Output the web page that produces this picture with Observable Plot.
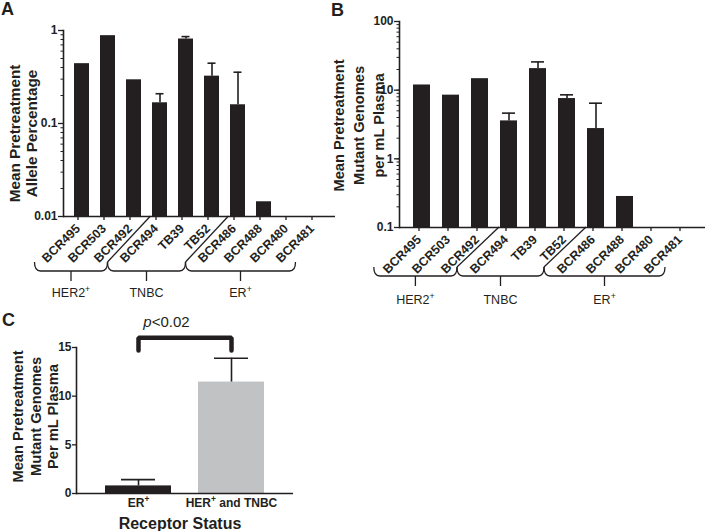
<!DOCTYPE html>
<html><head><meta charset="utf-8">
<script src="https://cdn.jsdelivr.net/npm/d3@7"></script>
<script src="https://cdn.jsdelivr.net/npm/@observablehq/plot@0.6"></script>
<style>
body{margin:0;background:#fff;}
#root{position:relative;width:705px;height:531px;overflow:hidden;font-family:"Liberation Sans",Arial,Helvetica,sans-serif;}
#root svg{position:absolute;background:transparent;overflow:visible;}
.letter{position:absolute;font-weight:bold;font-size:18px;line-height:18px;color:#231f20;}
</style></head><body><div id="root"></div>
<script>
// ---------- data ----------
const samples = ["BCR495","BCR503","BCR492","BCR494","TB39","TB52","BCR486","BCR488","BCR480","BCR481"];
const alleleMean = [0.44, 0.88, 0.295, 0.167, 0.81, 0.323, 0.159, 0.0144, null, null];
const alleleErr  = [null, null, null, 0.209, 0.86, 0.445, 0.356, null, null, null];
const genomesMean = [11.9, 8.46, 14.7, 3.57, 20.6, 7.55, 2.76, 0.283, null, null];
const genomesErr  = [null, null, null, 4.63, 25.8, 8.55, 6.46, null, null, null];
const groupLabels = ["HER2^+", "TNBC", "ER^+"];
const groupMembers = [["BCR495","BCR503","BCR492"], ["BCR494","TB39","TB52"], ["BCR486","BCR488","BCR480","BCR481"]];
const ticksA = [0.01, 0.1, 1];
const ticksB = [0.1, 1, 10, 100];
const statusCats = ["ER^+", "HER^+ and TNBC"];
const statusMean = [0.78, 11.45];
const statusErr  = [1.43, 13.9];
const statusColors = ["#231f20", "#c1c2c4"];
const ticksC = [0, 5, 10, 15];
const sigLabel = "p<0.02";
const sigTop = 16.0, sigLeg = 14.7;
const titleA = ["Mean Pretreatment", "Allele Percentage"];
const titleB = ["Mean Pretreatment", "Mutant Genomes", "per mL Plasma"];
const titleC = ["Mean Pretreatment", "Mutant Genomes", "Per mL Plasma"];
const xTitleC = "Receptor Status";

// ---------- helpers ----------
const ink = "#231f20";
const font = "Liberation Sans, Arial, Helvetica, sans-serif";
const root = document.getElementById("root");
const table = (means, errs) => samples.map((s, i) => ({sample: s, mean: means[i], err: errs[i]}));
const groups = groupLabels.map((l, i) => ({label: l, members: groupMembers[i]}));
const SVGNS = "http://www.w3.org/2000/svg";

function applySup(svg) {
  d3.select(svg).selectAll("text, tspan").each(function() {
    if (this.children.length) return;
    const t = this.textContent;
    if (!t.includes("^")) return;
    this.textContent = "";
    for (const p of t.split(/(\^\S)/)) {
      if (!p) continue;
      const ts = document.createElementNS(SVGNS, "tspan");
      if (p[0] === "^") { ts.textContent = p.slice(1); ts.setAttribute("baseline-shift", "super"); ts.setAttribute("font-size", "70%"); }
      else ts.textContent = p;
      this.appendChild(ts);
    }
  });
}

function titleMarks(lines, firstDx, gap, dy, size) {
  return lines.map((line, i) => Plot.text([line], {
    frameAnchor: "left", textAnchor: "middle", lineAnchor: "middle", rotate: -90,
    dx: firstDx + i * gap, dy, fontSize: size, fontWeight: "bold", fill: ink
  }));
}

function errorMarks(data, capInset) {
  const e = data.filter(d => d.err != null && d.mean != null);
  return [
    Plot.ruleX(e, {x: "sample", y1: "mean", y2: "err", stroke: ink, strokeWidth: 1.6}),
    Plot.tickY(e, {x: "sample", y: "err", stroke: ink, strokeWidth: 1.6, insetLeft: capInset, insetRight: capInset})
  ];
}

function drawBrackets(plot, base, cfg) {
  const sx = plot.scale("x"), sy = plot.scale("y");
  const c = v => sx.apply(v) + sx.bandwidth / 2;
  const step = sx.step;
  const y0 = sy.apply(base);
  const yP = y0 + cfg.peak, yH = y0 + cfg.h, yT = y0 + cfg.tick, yL = y0 + cfg.label;
  const g = d3.select(plot).append("g");
  const n = groups.length;
  groups.forEach((gr, i) => {
    const first = gr.members[0], last = gr.members[gr.members.length - 1];
    const left = i === 0 ? c(first) + cfg.leftOff : c(first) - step / 2 + cfg.joinOff;
    const right = i === n - 1 ? c(last) + cfg.rightOff : c(last) + step / 2 + cfg.joinOff;
    const mid = (left + right) / 2;
    g.append("path")
      .attr("d", `M${left},${yP}Q${left},${yH} ${left + 6},${yH}H${right - 6}Q${right},${yH} ${right},${yP}M${mid},${yH}V${yT}`)
      .attr("fill", "none").attr("stroke", ink).attr("stroke-width", 1.3);
    g.append("text").attr("x", mid).attr("y", yL).attr("text-anchor", "middle")
      .attr("font-size", 12.5).attr("fill", ink).attr("font-family", font).text(gr.label);
    if (i < n - 1) {
      const b = c(last) + step / 2;
      g.append("line").attr("x1", b + cfg.joinOff).attr("y1", yP).attr("x2", b + cfg.diag).attr("y2", y0)
        .attr("stroke", ink).attr("stroke-width", 1.3);
    }
  });
}

function logPanel({data, ticks, domain, title, width, height, mt, mb, ml, mr, pIn, pOut, capInset, tDx, tGap, tDy, tSize, lblDx, lblDy}) {
  return Plot.plot({
    width, height, marginTop: mt, marginBottom: mb, marginLeft: ml, marginRight: mr,
    style: {fontFamily: font, color: ink, background: "transparent", overflow: "visible"},
    x: {type: "band", domain: samples, paddingInner: pIn, paddingOuter: pOut, label: null},
    y: {type: "log", domain, label: null},
    marks: [
      Plot.barY(data, {x: "sample", y1: domain[0], y2: "mean", fill: ink}),
      ...errorMarks(data, capInset),
      Plot.axisY({ticks: 30, tickFormat: () => "", tickSize: 2.5, strokeWidth: 1, label: null}),
      Plot.axisY({ticks, tickFormat: "~g", tickSize: 5, tickPadding: 1, fontSize: 12, fontWeight: "bold", strokeWidth: 1.3, label: null}),
      Plot.axisX({tickRotate: -45, tickSize: 3, tickPadding: 6, dx: lblDx, dy: lblDy, fontSize: 12.5, fontWeight: "bold", strokeWidth: 1.3, label: null}),
      Plot.ruleY([domain[0]], {stroke: ink, strokeWidth: 1.6}),
      Plot.frame({anchor: "left", stroke: ink, strokeWidth: 1.6}),
      ...titleMarks(title, tDx, tGap, tDy, tSize)
    ]
  });
}

// ---------- Panel A ----------
const plotA = logPanel({data: table(alleleMean, alleleErr), ticks: ticksA, domain: [0.01, 1], title: titleA,
  width: 350, height: 300, mt: 30, mb: 84, ml: 63, mr: 15, pIn: 0.42, pOut: 0.44, capInset: 3.5,
  tDx: -48, tGap: 17, tDy: 10, tSize: 15.3, lblDx: -4, lblDy: 1});
plotA.style.left = "0px"; plotA.style.top = "0px";
root.appendChild(plotA);
drawBrackets(plotA, 0.01, {leftOff: -47, rightOff: -20, joinOff: -39, diag: 4, peak: 46, h: 55, tick: 65, label: 81});
applySup(plotA);

// ---------- Panel B ----------
const plotB = logPanel({data: table(genomesMean, genomesErr), ticks: ticksB, domain: [0.1, 100], title: titleB,
  width: 385, height: 310, mt: 21, mb: 83, ml: 79, mr: 0, pIn: 0.41, pOut: 0.42, capInset: 2,
  tDx: -60, tGap: 20, tDy: 1, tSize: 14.7, lblDx: -3, lblDy: 1});
plotB.style.left = "320px"; plotB.style.top = "0px";
root.appendChild(plotB);
drawBrackets(plotB, 0.1, {leftOff: -47.7, rightOff: -17.5, joinOff: -37, diag: 5, peak: 40, h: 49, tick: 59, label: 77});
applySup(plotB);

// ---------- Panel C ----------
const dataC = statusCats.map((c, i) => ({cat: c, mean: statusMean[i], err: statusErr[i], color: statusColors[i]}));
const sigPath = [
  {cat: statusCats[0], y: sigLeg}, {cat: statusCats[0], y: sigTop},
  {cat: statusCats[1], y: sigTop}, {cat: statusCats[1], y: sigLeg}
];
const plotC = Plot.plot({
  width: 350, height: 231, marginTop: 47, marginBottom: 38, marginLeft: 76, marginRight: 57,
  style: {fontFamily: font, color: ink, background: "transparent", overflow: "visible"},
  x: {type: "band", domain: statusCats, paddingInner: 0.29, paddingOuter: 0.31, label: null},
  y: {domain: [0, 15], label: null},
  marks: [
    Plot.barY(dataC, {x: "cat", y: "mean", fill: "color"}),
    Plot.ruleX(dataC, {x: "cat", y1: "mean", y2: "err", stroke: ink, strokeWidth: 1.6}),
    Plot.tickY(dataC, {x: "cat", y: "err", stroke: ink, strokeWidth: 1.6, insetLeft: 16, insetRight: 16}),
    Plot.axisY({ticks: ticksC, tickSize: 4, tickPadding: 1, fontSize: 12, fontWeight: "bold", strokeWidth: 1.3, label: null}),
    Plot.axisX({tickSize: 0, tickPadding: 5, fontSize: 12, fontWeight: "bold", label: null}),
    Plot.ruleY([0], {stroke: ink, strokeWidth: 1.6}),
    Plot.frame({anchor: "left", stroke: ink, strokeWidth: 1.6}),
    Plot.line(sigPath, {x: "cat", y: "y", stroke: ink, strokeWidth: 4.5, strokeLinejoin: "miter", strokeLinecap: "round"}),
    Plot.text([sigLabel], {x: () => statusCats[0], y: () => sigTop, dx: 28, dy: -16, fontSize: 15, fill: ink}),
    ...titleMarks(titleC, -58, 17.5, -4, 14.7),
    Plot.text([xTitleC], {frameAnchor: "bottom", textAnchor: "middle", lineAnchor: "middle", dx: -5, dy: 30, fontSize: 16, fontWeight: "bold", fill: ink})
  ]
});
plotC.style.left = "0px"; plotC.style.top = "300px";
root.appendChild(plotC);
applySup(plotC);
d3.select(plotC).selectAll("text").each(function() {
  if (this.textContent === sigLabel && !this.children.length) {
    this.textContent = "";
    const a = document.createElementNS(SVGNS, "tspan"); a.textContent = "p"; a.setAttribute("font-style", "italic");
    const b = document.createElementNS(SVGNS, "tspan"); b.textContent = sigLabel.slice(1);
    this.appendChild(a); this.appendChild(b);
  }
});

// ---------- panel letters ----------
[["A", 1, 0], ["B", 331, 0.5], ["C", 2, 311]].forEach(([t, x, y]) => {
  const d = document.createElement("div"); d.className = "letter"; d.textContent = t;
  d.style.left = x + "px"; d.style.top = y + "px"; root.appendChild(d);
});
</script></body></html>
